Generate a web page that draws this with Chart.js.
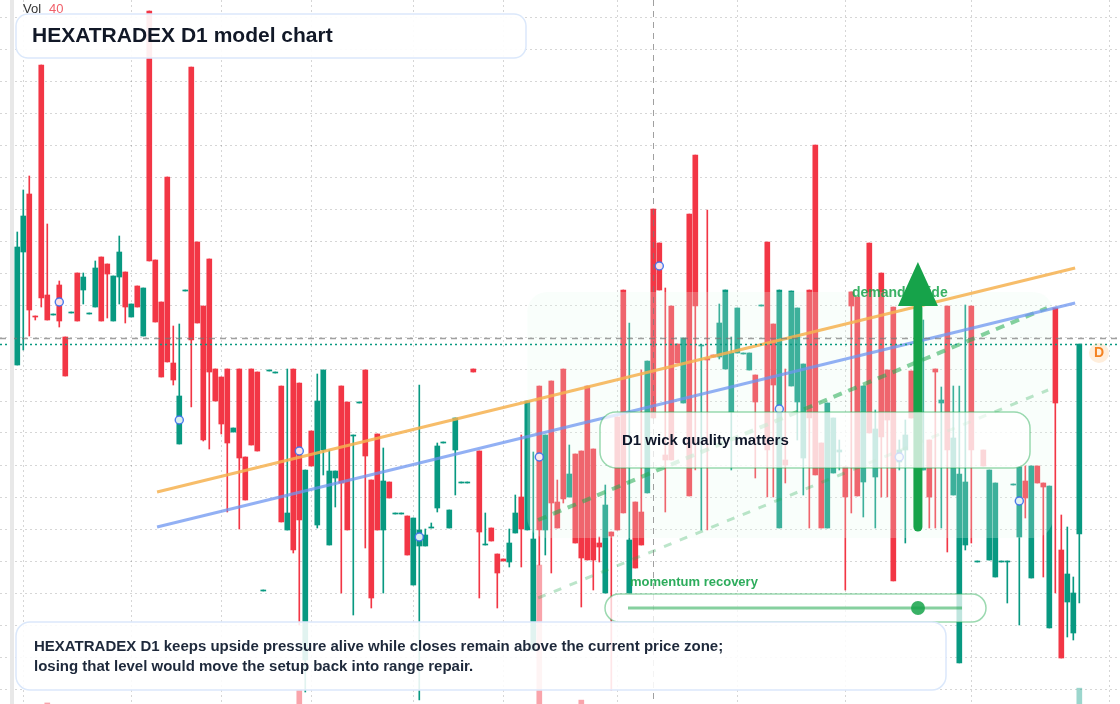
<!DOCTYPE html>
<html>
<head>
<meta charset="utf-8">
<script src="https://cdn.jsdelivr.net/npm/chart.js@4.4.1/dist/chart.umd.min.js"></script>
<style>
    html, body { margin: 0; padding: 0; background: #fff; }
    #wrap { position: relative; width: 1120px; height: 704px; overflow: hidden; }
</style>
</head>
<body>
<div id="wrap"><canvas id="chart" width="1120" height="704"></canvas></div>
<script>
// daily candles, index 0..177
var open = [
    43.5, 54.8, 60.6, 48.4, 73.5, 50.5, 48.5, 51.5, 46.3, 48.7,
    52.7, 51.0, 48.6, 49.3, 54.3, 53.6, 47.9, 52.3, 52.8, 48.3,
    51.4, 46.4, 78.9, 54.0, 49.8, 62.3, 43.7, 35.6, 50.9, 73.3,
    55.8, 49.4, 54.1, 43.1, 42.3, 43.1, 36.8, 43.1, 34.3, 43.1,
    42.8, 20.9, 42.9, 42.7, 41.4, 27.0, 43.1, 41.7, 14.0, 36.9,
    27.5, 35.0, 25.5, 32.2, 41.4, 39.8, 36.4, 39.7, 43.0, 32.0,
    36.6, 27.0, 31.8, 28.6, 28.6, 28.4, 21.5, 25.4, 25.4, 27.2,
    29.2, 35.7, 27.2, 35.0, 31.7, 31.7, 43.1, 34.9, 25.5, 27.2,
    24.6, 24.1, 23.8, 26.7, 30.3, 27.0, 15.0, 41.4, 27.0, 41.9,
    29.8, 43.1, 30.3, 34.6, 34.9, 41.4, 35.1, 25.7, 20.7, 26.8,
    38.3, 51.0, 20.7, 29.8, 28.8, 30.7, 59.1, 55.7, 34.5, 49.4,
    45.6, 39.7, 58.6, 64.5, 45.4, 44.2, 44.5, 44.3, 43.1, 38.8,
    44.7, 44.6, 43.0, 42.5, 49.4, 55.8, 47.6, 27.2, 34.0, 41.4,
    39.8, 34.2, 51.0, 65.5, 35.7, 27.2, 32.7, 34.8, 33.3, 50.8,
    50.3, 31.8, 55.7, 32.3, 52.7, 43.0, 49.3, 33.8, 35.0, 42.9,
    35.0, 33.0, 36.0, 43.1, 39.7, 49.4, 30.5, 13.7, 25.5, 49.4,
    23.8, 35.0, 24.0, 22.3, 23.8, 23.8, 31.5, 26.3, 31.9, 22.2,
    33.4, 31.7, 17.2, 49.2, 25.0, 19.8, 16.7, 26.6
];
var high = [
    56.8, 61.0, 62.4, 48.4, 73.5, 57.6, 48.6, 51.9, 46.3, 48.8,
    52.7, 52.7, 48.7, 53.9, 54.3, 53.6, 52.4, 56.4, 52.8, 49.6,
    51.4, 51.2, 78.9, 54.0, 49.8, 62.3, 47.4, 47.6, 51.0, 73.3,
    55.8, 49.4, 54.1, 43.1, 42.3, 43.1, 37.2, 43.1, 34.3, 43.1,
    42.8, 21.0, 43.0, 42.8, 41.4, 43.1, 43.1, 41.7, 33.0, 36.9,
    42.6, 43.0, 35.0, 32.9, 41.4, 39.8, 36.5, 39.8, 43.0, 32.0,
    36.6, 35.2, 31.8, 28.7, 28.7, 28.4, 28.2, 41.5, 27.1, 27.7,
    35.7, 35.8, 29.0, 38.2, 31.8, 31.8, 43.1, 34.9, 28.7, 27.2,
    24.6, 24.1, 27.1, 30.5, 36.5, 39.9, 34.8, 41.4, 36.5, 41.9,
    32.0, 43.1, 35.5, 34.6, 34.9, 41.4, 35.1, 26.3, 31.5, 26.8,
    38.3, 51.0, 47.7, 29.8, 43.0, 43.9, 59.1, 55.7, 51.2, 49.4,
    45.6, 46.2, 58.6, 64.5, 45.5, 59.0, 44.5, 49.6, 51.0, 46.3,
    49.2, 44.7, 44.7, 42.5, 49.5, 55.8, 47.6, 51.0, 43.1, 50.9,
    49.2, 43.6, 51.0, 65.5, 35.7, 39.7, 38.2, 36.0, 33.3, 50.8,
    50.3, 41.4, 55.7, 39.0, 52.7, 43.0, 49.3, 36.0, 38.0, 42.9,
    41.4, 48.0, 36.0, 43.1, 41.3, 49.4, 41.4, 41.4, 49.5, 49.4,
    23.9, 35.0, 33.0, 31.7, 23.9, 23.9, 31.6, 33.3, 33.4, 33.4,
    33.4, 31.7, 31.4, 49.2, 28.5, 27.3, 22.3, 45.6
];
var low = [
    43.5, 45.0, 46.4, 48.0, 49.3, 48.0, 48.5, 47.3, 42.4, 48.7,
    47.9, 49.6, 48.6, 49.3, 47.9, 48.2, 47.9, 49.6, 47.7, 48.3,
    49.3, 46.4, 53.9, 47.8, 42.3, 43.8, 41.5, 35.6, 50.9, 39.3,
    47.7, 35.9, 35.1, 39.9, 36.6, 28.8, 36.8, 27.1, 30.0, 35.5,
    34.9, 20.9, 42.9, 42.7, 27.8, 27.0, 24.7, 17.5, 10.8, 33.4,
    27.2, 32.5, 25.5, 29.3, 20.7, 27.0, 18.5, 39.7, 25.2, 19.2,
    27.0, 20.7, 30.2, 28.6, 28.6, 24.5, 21.5, 10.0, 25.4, 27.2,
    28.8, 35.7, 27.2, 30.5, 31.7, 31.7, 42.8, 20.2, 25.5, 25.9,
    19.2, 23.9, 23.3, 26.7, 23.3, 27.0, 15.0, 23.5, 24.5, 22.7,
    27.2, 29.7, 30.3, 25.7, 19.3, 24.0, 21.0, 23.8, 20.7, 11.0,
    27.0, 28.7, 20.7, 23.2, 25.5, 30.7, 38.2, 51.0, 28.8, 34.0,
    43.7, 39.7, 30.4, 33.0, 27.0, 27.0, 44.3, 44.1, 43.1, 33.0,
    44.7, 44.6, 43.0, 32.2, 49.4, 30.3, 30.3, 27.2, 31.7, 41.4,
    36.0, 30.5, 27.2, 32.5, 27.2, 27.2, 32.7, 33.0, 21.0, 28.7,
    30.4, 28.3, 36.7, 27.2, 30.3, 30.3, 21.9, 33.0, 25.7, 38.2,
    35.0, 33.0, 27.2, 27.2, 27.2, 24.8, 30.5, 13.7, 25.0, 25.7,
    23.8, 33.4, 24.0, 22.3, 23.8, 19.7, 31.5, 17.5, 28.2, 22.2,
    31.7, 22.3, 17.2, 20.7, 14.2, 16.3, 16.0, 19.7
];
var close = [
    55.3, 58.4, 49.0, 48.3, 50.2, 48.0, 48.6, 47.9, 42.4, 48.8,
    47.9, 52.3, 48.7, 53.2, 47.9, 52.6, 52.4, 54.8, 49.3, 49.6,
    49.3, 51.2, 53.9, 47.8, 42.3, 43.8, 42.0, 40.4, 51.0, 46.0,
    47.7, 36.0, 42.8, 39.9, 37.6, 35.7, 37.2, 34.2, 30.0, 35.5,
    34.9, 21.0, 43.0, 42.8, 27.8, 28.7, 25.0, 28.0, 33.0, 33.4,
    39.9, 43.0, 32.9, 32.9, 31.7, 27.0, 36.5, 39.8, 34.4, 20.2,
    27.0, 31.9, 30.2, 28.7, 28.7, 24.5, 28.2, 27.0, 26.5, 27.3,
    35.4, 35.8, 29.0, 38.2, 31.8, 31.8, 42.8, 26.8, 25.6, 25.9,
    22.7, 23.9, 25.7, 28.7, 27.1, 39.9, 26.1, 27.0, 36.5, 29.7,
    27.2, 30.1, 32.6, 25.7, 24.2, 24.0, 24.0, 25.3, 29.5, 26.4,
    27.0, 28.7, 26.0, 23.2, 25.5, 43.9, 38.2, 51.0, 34.0, 34.0,
    43.7, 46.2, 30.4, 49.4, 45.5, 44.0, 44.3, 47.7, 51.0, 44.7,
    49.2, 44.7, 44.7, 39.8, 49.5, 35.0, 41.5, 51.0, 33.5, 50.9,
    49.2, 43.6, 38.2, 32.5, 27.2, 39.7, 38.2, 35.0, 30.3, 49.4,
    30.4, 41.4, 36.7, 37.1, 36.3, 38.0, 21.9, 35.0, 36.5, 38.2,
    41.4, 33.2, 30.3, 42.8, 40.0, 35.0, 36.2, 32.6, 31.8, 35.0,
    23.9, 33.4, 33.0, 31.7, 23.9, 23.9, 31.6, 33.3, 30.2, 33.4,
    31.7, 31.3, 31.4, 39.7, 14.2, 22.6, 20.7, 45.6
];

// volume: only the few bars that reach into the visible pane
var volIndex = [5, 47, 87, 94, 177];
var volValue = [0.3, 4.0, 39.5, 1.1, 4.5];

// blue checkpoints every 20 sessions
var markIndex = [7, 27, 47, 67, 87, 107, 127, 147, 167];
var markValue = [49.8, 38.0, 34.9, 26.3, 34.3, 53.4, 39.1, 34.3, 29.9];

// trend lines [startIndex, startPrice, endIndex, endPrice]
var orangeTrend = [23.3, 30.8, 176.3, 53.2];
var blueTrend = [23.3, 27.3, 176.3, 49.7];
var greenChannelHigh = [86.8, 28.0, 171.6, 49.2];
var greenChannelLow = [86.8, 20.2, 171.8, 41.0];

// reference levels
var pivotLevel = 46.2;
var lastClose = 45.6;
var markerSession = 106;

// demand arrow and zone
var arrowIndex = 150.1;
var arrowFrom = 27.3;
var arrowHeadBase = 49.4;
var arrowTo = 53.8;
var zoneFrom = 85, zoneTo = 172.6, zoneTop = 50.8, zoneBottom = 26.2;

// grid positions
var yGrid = [78.3, 75.1, 71.9, 68.7, 65.5, 62.3, 59.1, 55.9, 52.7, 49.5, 46.3,
    43.1, 39.9, 36.7, 33.5, 30.3, 27.1, 23.9, 20.7, 17.5, 14.3, 11.1];
var xGrid = [1, 19, 34, 49, 66, 81, 100, 120, 138, 159, 182];

var UP = '#089981', DOWN = '#f23645';
var FONT = '"Liberation Sans", Arial, sans-serif';

var idx = [];
for (var i = 0; i < open.length; i++) { if (open[i] !== null) idx.push(i); }
var candleColor = idx.map(i => close[i] >= open[i] ? UP : DOWN);

function seg(t) { return [{ x: t[0], y: t[1] }, { x: t[2], y: t[3] }]; }

function roundBox(ctx, x, y, w, h, r, fill, stroke, lw) {
    ctx.beginPath();
    ctx.roundRect(x, y, w, h, r);
    ctx.fillStyle = fill;
    ctx.fill();
    if (stroke) {
        ctx.lineWidth = lw;
        ctx.strokeStyle = stroke;
        ctx.stroke();
    }
}

var overlay = {
    id: 'overlay',
    afterDatasetDraw(chart, args) {
        if (chart.data.datasets[args.index].label !== 'bodies') return;
        var sx = chart.scales.x, sy = chart.scales.y, ctx = chart.ctx;
        var x0 = sx.getPixelForValue(zoneFrom), x1 = sx.getPixelForValue(zoneTo);
        var y0 = sy.getPixelForValue(zoneTop), y1 = sy.getPixelForValue(zoneBottom);
        ctx.save();
        roundBox(ctx, x0, y0, x1 - x0, y1 - y0, 20, 'rgba(232,250,238,0.24)');
        ctx.restore();
    },
    afterDatasetsDraw(chart) {
        var sx = chart.scales.x, sy = chart.scales.y, ctx = chart.ctx;
        var W = chart.width, H = chart.height;
        ctx.save();

        // reference lines
        ctx.lineWidth = 1.5;
        ctx.setLineDash([6, 5]);
        ctx.strokeStyle = 'rgba(120,120,120,0.7)';
        var py = Math.round(sy.getPixelForValue(pivotLevel)) + 0.5;
        ctx.beginPath(); ctx.moveTo(0, py); ctx.lineTo(W, py); ctx.stroke();
        var vx = Math.round(sx.getPixelForValue(markerSession)) + 0.5;
        ctx.lineWidth = 1;
        ctx.beginPath(); ctx.moveTo(vx, 0); ctx.lineTo(vx, H); ctx.stroke();
        ctx.setLineDash([2, 3]);
        ctx.lineWidth = 1.5;
        ctx.strokeStyle = UP;
        var ly = Math.round(sy.getPixelForValue(lastClose)) + 0.5;
        ctx.beginPath(); ctx.moveTo(0, ly); ctx.lineTo(W, ly); ctx.stroke();
        ctx.setLineDash([]);

        // demand stride label + arrow
        ctx.font = 'bold 14px ' + FONT;
        ctx.textBaseline = 'middle';
        ctx.fillStyle = 'rgba(22,163,74,0.85)';
        ctx.fillText('demand stride', 852, 293);

        var ax = sx.getPixelForValue(arrowIndex);
        var aFrom = sy.getPixelForValue(arrowFrom);
        var aBase = sy.getPixelForValue(arrowHeadBase);
        var aTip = sy.getPixelForValue(arrowTo);
        ctx.strokeStyle = '#16a34a';
        ctx.fillStyle = '#16a34a';
        ctx.lineWidth = 9;
        ctx.lineCap = 'round';
        ctx.beginPath(); ctx.moveTo(ax, aFrom); ctx.lineTo(ax, aBase + 2); ctx.stroke();
        ctx.lineCap = 'butt';
        ctx.beginPath();
        ctx.moveTo(ax, aTip);
        ctx.lineTo(ax + 20, aBase);
        ctx.lineTo(ax - 20, aBase);
        ctx.closePath();
        ctx.fill();

        // wick quality callout
        roundBox(ctx, 600, 412, 430, 56, 16, 'rgba(255,255,255,0.74)', 'rgba(34,170,80,0.45)', 1.5);
        ctx.font = 'bold 15px ' + FONT;
        ctx.fillStyle = '#0f172a';
        ctx.fillText('D1 wick quality matters', 622, 441);

        // momentum recovery gauge
        ctx.font = 'bold 13px ' + FONT;
        ctx.fillStyle = 'rgba(22,163,74,0.9)';
        ctx.fillText('momentum recovery', 630, 582);
        roundBox(ctx, 605, 594, 381, 28, 14, 'rgba(255,255,255,0.74)', 'rgba(34,170,80,0.45)', 1.5);
        ctx.strokeStyle = 'rgba(34,170,80,0.55)';
        ctx.lineWidth = 3;
        ctx.beginPath(); ctx.moveTo(628, 608); ctx.lineTo(962, 608); ctx.stroke();
        ctx.beginPath(); ctx.arc(918, 608, 7, 0, Math.PI * 2);
        ctx.fillStyle = 'rgba(22,163,74,0.85)';
        ctx.fill();

        // title
        roundBox(ctx, 16, 14, 510, 44, 12, 'rgba(255,255,255,0.92)', '#dbe8fb', 1.5);
        ctx.font = 'bold 21px ' + FONT;
        ctx.fillStyle = '#111827';
        ctx.fillText('HEXATRADEX D1 model chart', 32, 36);

        // note
        roundBox(ctx, 16, 622, 930, 68, 14, 'rgba(255,255,255,0.88)', '#dbe8fb', 1.5);
        ctx.font = 'bold 15px ' + FONT;
        ctx.fillStyle = '#1e293b';
        ctx.fillText('HEXATRADEX D1 keeps upside pressure alive while closes remain above the current price zone;', 34, 647);
        ctx.fillText('losing that level would move the setup back into range repair.', 34, 667);

        // volume legend
        ctx.font = '13px ' + FONT;
        ctx.fillStyle = '#333';
        ctx.fillText('Vol', 23, 9);
        ctx.fillStyle = '#f0606a';
        ctx.fillText('40', 49, 9);

        // D badge
        ctx.beginPath(); ctx.arc(1099, 353, 10, 0, Math.PI * 2);
        ctx.fillStyle = 'rgba(255,200,140,0.3)';
        ctx.fill();
        ctx.font = 'bold 14px ' + FONT;
        ctx.fillStyle = '#f58220';
        ctx.textAlign = 'center';
        ctx.fillText('D', 1099, 353);

        // left pane edge
        ctx.fillStyle = '#e8e8e8';
        ctx.fillRect(10, 0, 4, H);
        ctx.restore();
    }
};

var gridStyle = { color: 'rgba(0,0,0,0.16)', lineWidth: 1, drawTicks: false };

new Chart(document.getElementById('chart'), {
    type: 'bar',
    data: {
        datasets: [{
            label: 'volume',
            yAxisID: 'vol',
            data: volIndex.map((x, k) => ({ x: x, y: volValue[k] })),
            backgroundColor: volIndex.map(i => close[i] >= open[i] ? 'rgba(8,153,129,0.4)' : 'rgba(242,54,69,0.45)'),
            barThickness: 5,
            grouped: false,
            order: 10
        }, {
            label: 'wicks',
            data: idx.map(i => ({ x: i, y: [low[i], high[i]] })),
            backgroundColor: candleColor,
            barThickness: 1,
            grouped: false,
            order: 9
        }, {
            label: 'bodies',
            data: idx.map(i => ({ x: i, y: [open[i], close[i]] })),
            backgroundColor: candleColor,
            barThickness: 5,
            minBarLength: 1,
            grouped: false,
            order: 8
        }, {
            type: 'line', label: 'orange',
            data: seg(orangeTrend),
            borderColor: 'rgba(246,178,80,0.85)', borderWidth: 3, pointRadius: 0, order: 5
        }, {
            type: 'line', label: 'blue',
            data: seg(blueTrend),
            borderColor: 'rgba(110,150,240,0.75)', borderWidth: 3, pointRadius: 0, order: 5
        }, {
            type: 'line', label: 'channel high',
            data: seg(greenChannelHigh),
            borderColor: 'rgba(34,170,80,0.55)', borderWidth: 4, borderDash: [9, 7], pointRadius: 0, order: 5
        }, {
            type: 'line', label: 'channel low',
            data: seg(greenChannelLow),
            borderColor: 'rgba(34,170,80,0.3)', borderWidth: 3, borderDash: [8, 9], pointRadius: 0, order: 5
        }, {
            type: 'line', label: 'checkpoints',
            data: markIndex.map((x, k) => ({ x: x, y: markValue[k] })),
            showLine: false,
            pointRadius: 4,
            pointBorderWidth: 1.5,
            pointBorderColor: 'rgba(59,110,235,0.9)',
            pointBackgroundColor: 'rgba(255,255,255,0.85)',
            order: 1
        }]
    },
    options: {
        responsive: false,
        animation: false,
        devicePixelRatio: 1,
        layout: { padding: 0, autoPadding: false },
        plugins: { legend: { display: false }, tooltip: { enabled: false } },
        scales: {
            x: {
                type: 'linear', min: -2.88, max: 183.78, offset: false,
                ticks: { display: false },
                grid: Object.assign({ offset: false }, gridStyle),
                border: { display: false, dash: [2, 3] },
                afterBuildTicks: s => { s.ticks = xGrid.map(v => ({ value: v })); }
            },
            y: {
                min: 9.6, max: 80,
                ticks: { display: false },
                grid: gridStyle,
                border: { display: false, dash: [2, 3] },
                afterBuildTicks: s => { s.ticks = yGrid.map(v => ({ value: v })); }
            },
            vol: {
                display: false, min: 0, max: 200
            }
        }
    },
    plugins: [overlay]
});
</script>
</body>
</html>
